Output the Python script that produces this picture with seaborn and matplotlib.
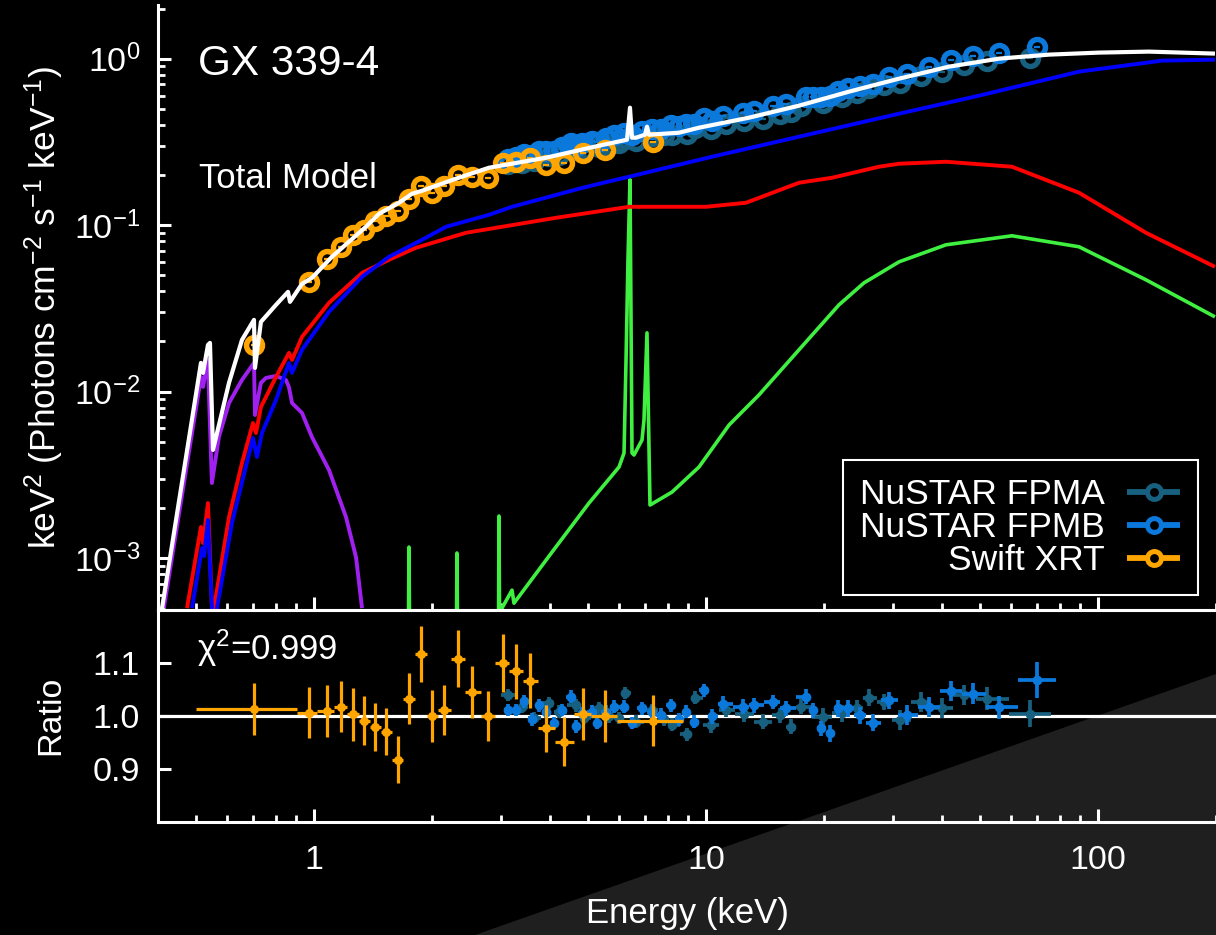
import numpy as np
import matplotlib
matplotlib.use("Agg")
import matplotlib.pyplot as plt
import matplotlib.ticker as mticker
from matplotlib.lines import Line2D
from matplotlib.patches import Polygon
import seaborn as sns

# ---------------- model curves (energy keV, keV^2 flux) ----------------
total_E = [0.4096, 0.5148, 0.5210, 0.5364, 0.5428, 0.5525, 0.6069, 0.6551, 0.7029, 0.7071,
           0.7322, 0.8000, 0.8585, 0.8686, 0.9319, 0.9883, 1.111, 1.357, 1.465, 1.647,
           1.778, 1.886, 2.302, 2.795, 3.906, 5.333, 6.288, 6.399, 6.475, 6.629,
           6.988, 7.071, 7.155, 8.534, 9.597, 12.87, 17.27, 23.16, 31.08, 41.68,
           55.90, 74.99, 100.6, 134.9, 198.8]
total_F = [5.0e-4, 0.01486, 0.01294, 0.01906, 0.01960, 0.00446, 0.01127, 0.02043, 0.02695, 0.01387,
           0.02621, 0.03318, 0.03970, 0.03458, 0.04436, 0.04822, 0.06448, 0.09768, 0.1169, 0.1362,
           0.1542, 0.1608, 0.1899, 0.2211, 0.2539, 0.2998, 0.3258, 0.5074, 0.3350, 0.3350,
           0.3491, 0.3901, 0.3491, 0.3589, 0.3846, 0.4418, 0.5217, 0.6332, 0.7581, 0.8952,
           1.0, 1.057, 1.087, 1.102, 1.072]

cont_E = [0.4885, 0.5179, 0.5240, 0.5364, 0.5492, 0.5525, 0.5656, 0.6177, 0.6988, 0.7154,
          0.7367, 0.8000, 0.8634, 0.8788, 0.9319, 1.092, 1.326, 1.553, 1.886, 2.171,
          2.795, 3.200, 4.742, 5.333, 6.362, 10.36, 17.27, 31.08, 49.70, 89.45,
          145.7, 198.8]
cont_F = [5e-4, 0.001147, 0.001027, 0.00169, 5e-4, 2e-4, 5e-4, 0.001622, 0.005261, 0.004043,
          0.005636, 0.008901, 0.01486, 0.01294, 0.01782, 0.03011, 0.04889, 0.06448, 0.08157, 0.09768,
          0.1153, 0.1288, 0.1653, 0.1771, 0.1952, 0.2574, 0.3396, 0.4669, 0.5991, 0.8352,
          0.9727, 0.9862]

refl_E = [0.4743, 0.5148, 0.5210, 0.5364, 0.5492, 0.5525, 0.5557, 0.6069, 0.6551, 0.6988,
          0.7112, 0.7322, 0.8000, 0.8634, 0.8788, 0.9319, 1.092, 1.326, 1.553, 1.820,
          2.442, 4.143, 6.362, 8.534, 10.0, 12.65, 17.27, 20.96, 27.63, 31.08,
          40.95, 60.33, 89.45, 132.6, 198.8]
refl_F = [5.0e-4, 0.001535, 0.001230, 0.002138, 5.0e-4, 2e-4, 5.0e-4, 0.00176, 0.003722, 0.006474,
          0.005636, 0.008068, 0.01224, 0.01707, 0.01549, 0.02130, 0.03410, 0.05165, 0.06184, 0.07303,
          0.08989, 0.1106, 0.1288, 0.1288, 0.1288, 0.1362, 0.1796, 0.1925, 0.2242, 0.2336,
          0.2402, 0.2242, 0.1564, 0.08989, 0.05614]

line_E = [1.735, 1.747, 1.760, 2.300, 2.316, 2.333, 2.950, 2.964, 2.985, 3.017,
          3.200, 3.237, 4.047, 5.029, 6.000, 6.179, 6.252, 6.324, 6.399, 6.475,
          6.551, 6.867, 6.948, 7.071, 7.197, 8.191, 9.597, 11.45, 13.65, 17.27,
          21.84, 25.30, 31.08, 40.95, 60.33, 89.45, 132.6, 198.8]
line_F = [1e-4, 0.001163, 1e-4, 1e-4, 0.001071, 1e-4, 1e-4, 0.001787, 1e-4, 5.0e-4,
          6.41e-4, 5.35e-4, 0.001084, 0.002138, 0.003521, 0.004275, 0.01549, 0.06184, 0.1873, 0.004275,
          0.004156, 0.005117, 0.006745, 0.02251, 0.002080, 0.002489, 0.003521, 0.006295, 0.009544, 0.01782,
          0.03318, 0.04498, 0.06015, 0.07612, 0.08623, 0.07406, 0.04689, 0.02809]

disk_E = [0.414, 0.515, 0.521, 0.536, 0.549, 0.572, 0.607, 0.655, 0.703, 0.707,
          0.732, 0.754, 0.800, 0.848, 0.863, 0.879, 0.932, 0.988, 1.092, 1.207,
          1.280, 1.326]
disk_F = [5.0e-4, 0.01224, 0.01066, 0.01549, 0.00282, 0.00533, 0.00853, 0.01174, 0.01486, 0.00723,
          0.01127, 0.01207, 0.01241, 0.01174, 0.01066, 0.00853, 0.00744, 0.00533, 0.00338, 0.00176,
          0.00101, 5.0e-4]

# ---------------- data ----------------
fpma_E = [3.126, 3.394, 3.641, 3.976, 4.217, 4.659, 4.883, 5.333, 5.657, 6.000,
          6.215, 6.629, 7.282, 7.814, 8.191, 8.945, 9.374, 10.30, 11.25, 12.50,
          13.98, 15.45, 16.48, 17.47, 19.88, 22.23, 24.28, 26.05, 28.46, 31.26,
          35.36, 39.99, 45.52, 52.11, 67.07]
fpma_flux = [0.2328, 0.2375, 0.2425, 0.2598, 0.2630, 0.2813, 0.2825, 0.2956, 0.3036, 0.3112,
             0.3304, 0.3221, 0.3432, 0.3465, 0.3479, 0.3511, 0.3814, 0.3776, 0.4053, 0.4191,
             0.4368, 0.4672, 0.4764, 0.5158, 0.5425, 0.5854, 0.6243, 0.6637, 0.6961, 0.7109,
             0.7883, 0.8351, 0.9170, 0.9627, 1.0036]
fpma_ratio = [1.039, 1.017, 0.996, 1.024, 1.008, 1.020, 0.996, 1.014, 0.999, 0.996,
              1.043, 0.989, 1.011, 0.993, 0.983, 0.965, 1.034, 0.982, 1.011, 1.003,
              0.989, 1.001, 0.979, 1.017, 0.998, 1.005, 1.014, 1.034, 1.026, 0.992,
              1.026, 1.014, 1.039, 1.032, 1.004]
fpma_rerr = [0.012, 0.012, 0.012, 0.012, 0.012, 0.012, 0.012, 0.012, 0.012, 0.012,
             0.012, 0.012, 0.012, 0.012, 0.012, 0.012, 0.012, 0.014, 0.014, 0.014,
             0.014, 0.014, 0.014, 0.014, 0.016, 0.016, 0.016, 0.016, 0.016, 0.019,
             0.019, 0.019, 0.019, 0.022, 0.025]

fpmb_E = [3.126, 3.276, 3.434, 3.599, 3.750, 3.906, 4.095, 4.292, 4.524, 4.659,
          4.826, 5.118, 5.271, 5.558, 5.826, 6.179, 6.475, 6.867, 7.282, 7.677,
          8.142, 8.534, 8.892, 9.320, 9.883, 10.36, 11.05, 12.43, 13.26, 14.83,
          16.00, 17.99, 18.75, 19.65, 20.72, 21.71, 23.03, 24.71, 26.67, 29.31,
          32.58, 37.06, 42.17, 47.99, 55.90, 69.89]
fpmb_flux = [0.2496, 0.2567, 0.2681, 0.2628, 0.2775, 0.2781, 0.2796, 0.2948, 0.3107, 0.2979,
             0.3098, 0.3194, 0.3168, 0.3330, 0.3454, 0.3551, 0.3491, 0.3690, 0.3772, 0.3801,
             0.3978, 0.3927, 0.4042, 0.4021, 0.4380, 0.4234, 0.4520, 0.4684, 0.4829, 0.5206,
             0.5363, 0.5873, 0.5886, 0.5847, 0.5956, 0.6421, 0.6693, 0.6888, 0.7080, 0.7803,
             0.8130, 0.8855, 0.9771, 1.0420, 1.0739, 1.1768]
fpmb_ratio = [1.011, 1.011, 1.027, 0.993, 1.020, 1.008, 0.986, 1.011, 1.036, 0.980,
              1.005, 1.008, 0.986, 1.008, 1.017, 1.017, 0.986, 1.014, 1.008, 1.002,
              1.020, 0.993, 1.008, 0.989, 1.048, 0.999, 1.023, 1.017, 1.020, 1.026,
              1.014, 1.036, 1.010, 0.976, 0.967, 1.014, 1.014, 1.001, 0.987, 1.029,
              1.001, 1.017, 1.047, 1.042, 1.016, 1.068]
fpmb_rerr = [0.012, 0.012, 0.012, 0.012, 0.012, 0.012, 0.012, 0.012, 0.012, 0.012,
             0.012, 0.012, 0.012, 0.012, 0.012, 0.012, 0.012, 0.012, 0.012, 0.012,
             0.012, 0.012, 0.012, 0.012, 0.012, 0.014, 0.014, 0.014, 0.014, 0.014,
             0.014, 0.014, 0.014, 0.014, 0.016, 0.016, 0.016, 0.016, 0.016, 0.016,
             0.019, 0.019, 0.019, 0.019, 0.022, 0.034]

xrt_E = [0.705, 0.969, 1.079, 1.172, 1.260, 1.345, 1.434, 1.527, 1.637, 1.751,
         1.873, 2.002, 2.146, 2.324, 2.533, 2.784, 3.028, 3.279, 3.565, 3.910,
         4.340, 4.850, 5.540, 7.310]
xrt_edges = [0.501, 0.905, 1.02, 1.125, 1.215, 1.30, 1.39, 1.48, 1.58, 1.69,
             1.81, 1.94, 2.07, 2.23, 2.43, 2.66, 2.90, 3.15, 3.42, 3.73,
             4.12, 4.60, 5.10, 5.93, 8.74]
xrt_flux = [0.01906, 0.0456, 0.0627, 0.0741, 0.0874, 0.0937, 0.106, 0.1138, 0.122, 0.144,
            0.172, 0.156, 0.172, 0.2006, 0.195, 0.1925, 0.237, 0.240, 0.254, 0.2305,
            0.237, 0.272, 0.284, 0.317]
xrt_ratio = [1.0125, 1.006, 1.009, 1.017, 1.003, 0.991, 0.979, 0.970, 0.917, 1.0325,
             1.116, 1.000, 1.011, 1.108, 1.045, 1.000, 1.099, 1.084, 1.066, 0.976,
             0.951, 1.004, 1.000, 0.991]
xrt_rerr = [0.049, 0.049, 0.049, 0.048, 0.050, 0.047, 0.046, 0.044, 0.044, 0.0475,
            0.053, 0.049, 0.048, 0.054, 0.050, 0.047, 0.055, 0.052, 0.052, 0.045,
            0.046, 0.049, 0.049, 0.048]

labels = ["NuSTAR FPMA", "NuSTAR FPMB", "Swift XRT"]
source_name = "GX 339-4"
model_label = "Total Model"
chi_text = "χ$^2$=0.999"

C_FPMA = "#17607f"
C_FPMB = "#0b79dc"
C_XRT = "#ffa500"

# ---------------- style ----------------
sns.set_theme(style="dark")
plt.rcParams.update({
    "font.family": ["Liberation Sans", "DejaVu Sans"],
    "mathtext.fontset": "custom",
    "mathtext.rm": "Liberation Sans",
    "mathtext.it": "Liberation Sans:italic",
    "mathtext.bf": "Liberation Sans:bold",
    "mathtext.default": "regular",
    "axes.facecolor": "none",
    "figure.facecolor": "black",
    "text.color": "white",
    "axes.labelcolor": "white",
    "axes.grid": False,
    "lines.solid_capstyle": "butt",
})

W, H = 1216, 935
fig = plt.figure(figsize=(W / 100, H / 100), dpi=100, facecolor="black")

# lower-right textured background wedge
wedge = Polygon([[475 / W, 0], [1.0, (H - 674) / H], [1.0, 0]], closed=True,
                transform=fig.transFigure, facecolor="#1f1f1f", edgecolor="none", zorder=-5)
fig.add_artist(wedge)

L = 158 / W
Wd = 1 - L
top_y0 = 1 - 610 / H
ax1 = fig.add_axes([L, top_y0, Wd, (1 - 5 / H) - top_y0])
bot_y0 = 1 - 821.5 / H
ax2 = fig.add_axes([L, bot_y0, Wd, top_y0 - bot_y0], sharex=ax1)
for ax in (ax1, ax2):
    ax.set_facecolor("none")

ax1.set_xscale("log")
ax1.set_yscale("log")
ax1.set_xlim(0.4, 200)
ax1.set_ylim(4.87e-4, 2.1)
ax2.set_ylim(0.8, 1.2)


def bins(E):
    E = np.asarray(E, float)
    mids = np.sqrt(E[1:] * E[:-1])
    edges = np.r_[E[0] ** 2 / mids[0], mids, E[-1] ** 2 / mids[-1]]
    return np.vstack([E - edges[:-1], edges[1:] - E])


# model components
lw = 2.8
sns.lineplot(x=line_E, y=line_F, ax=ax1, color="#40f040", lw=2.6, sort=False, estimator=None, zorder=2)
sns.lineplot(x=disk_E, y=disk_F, ax=ax1, color="#a020f0", lw=lw, sort=False, estimator=None, zorder=2)
sns.lineplot(x=refl_E, y=refl_F, ax=ax1, color="#ff0000", lw=lw, sort=False, estimator=None, zorder=2)
sns.lineplot(x=cont_E, y=cont_F, ax=ax1, color="#0000ff", lw=lw, sort=False, estimator=None, zorder=2)

# data in top panel (open rings with a small dash inside)
xrt_E_a = np.asarray(xrt_E)
xrt_ed = np.asarray(xrt_edges)
xrt_xerr = np.vstack([xrt_E_a - xrt_ed[:-1], xrt_ed[1:] - xrt_E_a])
for (E, F, c, z) in ((fpma_E, fpma_flux, C_FPMA, 3.0), (fpmb_E, fpmb_flux, C_FPMB, 3.1),
                     (xrt_E, xrt_flux, C_XRT, 3.2)):
    ax1.plot(E, F, ls="none", marker="o", ms=11.5, mfc="none", mec=c, mew=3.9, zorder=z)
    ax1.plot(E, F, ls="none", marker="_", ms=5, mew=1.6, color=c, zorder=z)

sns.lineplot(x=total_E, y=total_F, ax=ax1, color="white", lw=3.0, sort=False, estimator=None, zorder=4)

# ratio panel
ax2.axhline(1.0, color="white", lw=2.3, zorder=1)
pt = dict(fmt="o", ms=7, mew=0, elinewidth=2.7, capsize=0)
ax2.errorbar(fpma_E, fpma_ratio, xerr=bins(fpma_E), yerr=fpma_rerr, color=C_FPMA, zorder=2, **pt)
ax2.errorbar(fpmb_E, fpmb_ratio, xerr=bins(fpmb_E), yerr=fpmb_rerr, color=C_FPMB, zorder=2.1, **pt)
ax2.errorbar(xrt_E, xrt_ratio, xerr=xrt_xerr, yerr=xrt_rerr, color=C_XRT, zorder=2.2,
             fmt="o", ms=6.5, mew=0, elinewidth=2.3, capsize=0)

# ---------------- axes styling ----------------
for ax in (ax1, ax2):
    for s in ax.spines.values():
        s.set_color("white")
        s.set_linewidth(2.2)
    ax.spines["right"].set_visible(False)
    ax.tick_params(which="both", bottom=True, left=True, top=False, right=False)
    ax.tick_params(which="major", direction="in", length=9.5, width=2.2, colors="white",
                   labelsize=24.5, pad=13)
    ax.tick_params(which="minor", direction="in", length=5, width=2.0, colors="white")
ax1.spines["top"].set_visible(False)
ax1.tick_params(axis="x", which="both", labelbottom=False)
ax2.tick_params(axis="x", which="major", pad=17)

ax1.yaxis.set_major_locator(mticker.LogLocator(base=10, numticks=12))
ax1.yaxis.set_minor_locator(mticker.LogLocator(base=10, subs=np.arange(2, 10), numticks=12))
ax1.yaxis.set_minor_formatter(mticker.NullFormatter())
ax1.xaxis.set_major_locator(mticker.FixedLocator([1, 10, 100]))
ax1.xaxis.set_minor_locator(mticker.LogLocator(base=10, subs=np.arange(2, 10), numticks=12))
ax1.xaxis.set_major_formatter(mticker.FuncFormatter(lambda v, p: f"{v:g}"))
ax1.xaxis.set_minor_formatter(mticker.NullFormatter())

ax2.yaxis.set_major_locator(mticker.FixedLocator([0.9, 1.0, 1.1]))
ax2.yaxis.set_minor_locator(mticker.NullLocator())
ax2.yaxis.set_major_formatter(mticker.FormatStrFormatter("%.1f"))

ax1.set_ylabel(r"keV$^2$ (Photons cm$^{-2}$ s$^{-1}$ keV$^{-1}$)", fontsize=25.5, color="white")
ax1.yaxis.set_label_coords(-0.087, 0.5)
ax2.set_ylabel("Ratio", fontsize=24.5, color="white")
ax2.yaxis.set_label_coords(-0.087, 0.5)
ax2.set_xlabel("Energy (keV)", fontsize=25, color="white")
ax2.xaxis.set_label_coords(0.5, -0.355)

ax1.text(0.0378, 0.884, source_name, transform=ax1.transAxes, fontsize=30.5,
         color="white", ha="left", va="baseline")
ax1.text(0.0388, 0.6975, model_label, transform=ax1.transAxes, fontsize=25,
         color="white", ha="left", va="baseline")
ax2.text(0.037, 0.763, chi_text, transform=ax2.transAxes, fontsize=25,
         color="white", ha="left", va="baseline")

# legend
handles = [Line2D([], [], color=c, lw=4.2, marker="o", ms=10, mfc="black", mec=c, mew=3.6)
           for c in (C_FPMA, C_FPMB, C_XRT)]
leg = ax1.legend(handles, labels, loc="lower right", bbox_to_anchor=(0.983, 0.025),
                 borderaxespad=0, markerfirst=False, fontsize=25.5, frameon=True,
                 fancybox=False, facecolor="black", edgecolor="white", framealpha=1,
                 handlelength=1.5, handletextpad=0.62, labelspacing=0.0, borderpad=0.5,
                 numpoints=1)
leg.get_frame().set_linewidth(1.5)
for t in leg.get_texts():
    t.set_color("white")

fig.savefig("out.png", dpi=100, facecolor="black")
